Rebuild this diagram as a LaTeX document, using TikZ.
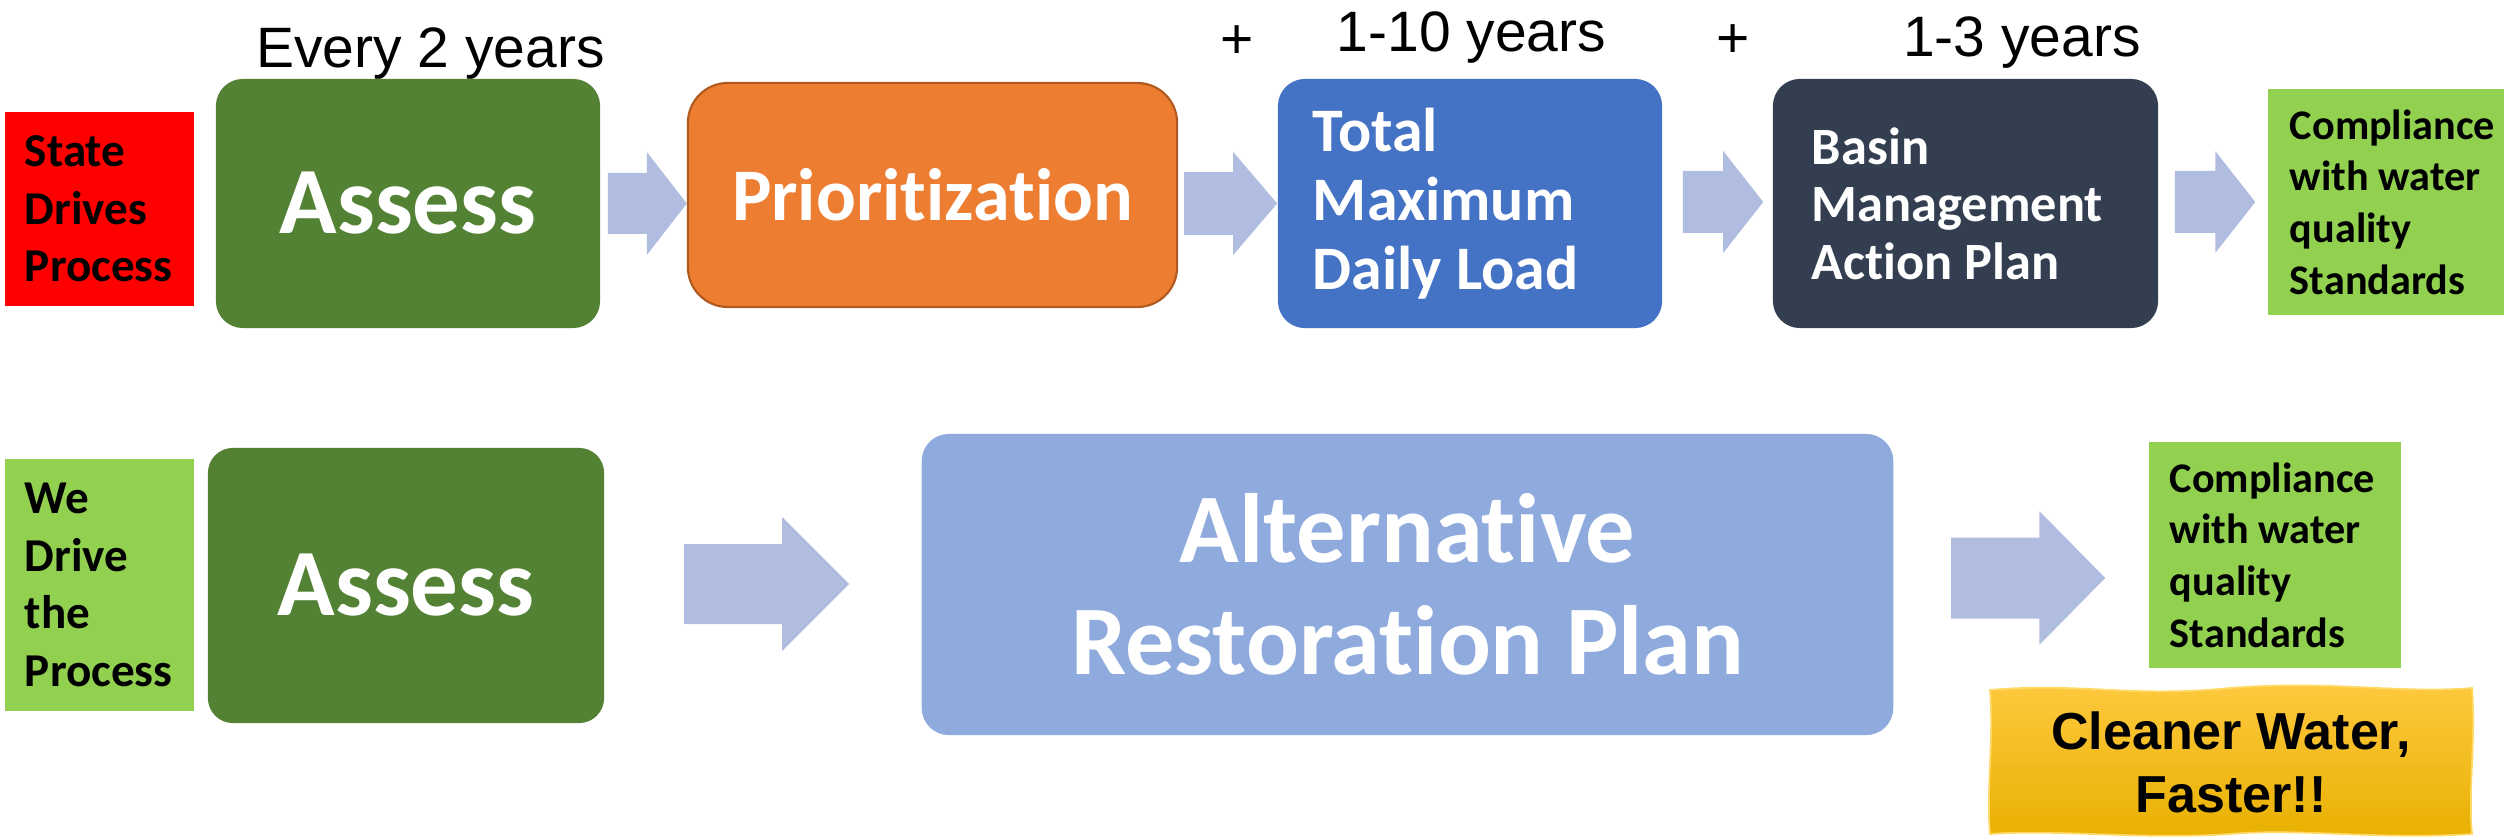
\documentclass[tikz,border=0pt]{standalone}
\usepackage{fontspec}
\setmainfont{Carlito}[Ligatures=NoCommon]
\newfontfamily\arialfont{Liberation Sans}
\usetikzlibrary{calc}

\definecolor{stateRed}{HTML}{FF0000}
\definecolor{assessGreen}{HTML}{548235}
\definecolor{prioOrange}{HTML}{ED7D31}
\definecolor{prioEdge}{HTML}{B0591F}
\definecolor{tmdlBlue}{HTML}{4472C4}
\definecolor{bmapNavy}{HTML}{333F50}
\definecolor{okGreen}{HTML}{92D050}
\definecolor{arrowBlue}{HTML}{B0BDE0}
\definecolor{arpBlue}{HTML}{8FAADC}
\definecolor{cwTop}{HTML}{FFC940}
\definecolor{cwMid}{HTML}{FFC000}
\definecolor{cwBot}{HTML}{E8B000}
\definecolor{cwEdge}{HTML}{FFD966}

% #1 start, #2 tip, #3 half shaft, #4 half head, #5 head length
\newcommand{\blockarrow}[5]{%
  \fill[blockfill] ($(#1)+(0,-#3)$) -- ($(#2)+(-#5,-#3)$) -- ($(#2)+(-#5,-#4)$) -- (#2)
    -- ($(#2)+(-#5,#4)$) -- ($(#2)+(-#5,#3)$) -- ($(#1)+(0,#3)$) -- cycle;}

\tikzset{
  roundbox/.style={rounded corners=0.27cm, inner sep=0pt, text=white},
  flagbox/.style={fill=okGreen, inner ysep=0pt, align=flush left},
  yearlabel/.style={anchor=base, inner sep=0pt, font=\arialfont\fontsize{16.2}{19}\selectfont},
  blockfill/.style={fill=arrowBlue},
}

\begin{document}
\begin{tikzpicture}[x=0.01cm, y=-0.01cm]
      \useasboundingbox (0,0) rectangle (2509,837);

      % state-driven path
      \node[flagbox, fill=stateRed, minimum width=1.89cm, minimum height=1.94cm, text width=1.49cm, inner xsep=0.2cm,
        font=\bfseries\fontsize{13.4}{16.4}\selectfont] (state) at (99.5,209) {State\\Drives\\Process};
      \node[roundbox, fill=assessGreen, minimum width=3.84cm, minimum height=2.49cm,
        font=\bfseries\fontsize{27}{32}\selectfont] (assess) at (408,203.5) {Assess};
      \node[roundbox, fill=prioOrange, draw=prioEdge, line width=0.6pt, rounded corners=0.4cm, minimum width=4.89cm, minimum height=2.24cm,
        font=\bfseries\fontsize{21.1}{25}\selectfont] (prio) at (932.5,195) {Prioritization};
      \node[roundbox, fill=tmdlBlue, minimum width=3.84cm, minimum height=2.49cm, text width=3.14cm, inner xsep=0.35cm, align=flush left,
        font=\bfseries\fontsize{17.6}{19.6}\selectfont] (tmdl) at (1470,203.5) {Total\\Maximum\\Daily Load};
      \node[roundbox, fill=bmapNavy, minimum width=3.85cm, minimum height=2.49cm, text width=3.07cm, inner xsep=0.39cm, align=flush left,
        font=\bfseries\fontsize{14.9}{16.4}\selectfont] (bmap) at (1965.5,203.5) {Basin\\Management\\Action Plan};
      \node[flagbox, minimum width=2.36cm, minimum height=2.26cm, text width=1.92cm, inner xsep=0.22cm,
        font=\bfseries\fontsize{12}{14.7}\selectfont] (compa) at (2386,202) {Compliance\\with water\\quality\\Standards};

      \node[yearlabel] (every) at (430.5,68) {Every 2 years};
      \node[yearlabel] (plusa) at (1237,59) {+};
      \node[yearlabel] (tenyrs) at (1471.5,52) {1-10 years};
      \node[yearlabel] (plusb) at (1733,58) {+};
      \node[yearlabel] (threeyrs) at (2022,57) {1-3 years};

      \coordinate (a1s) at ($(assess.east)+(7,0)$);
      \coordinate (a1e) at (prio.west |- a1s);
      \coordinate (a2s) at ($(prio.east |- tmdl.west)+(6,0)$);
      \coordinate (a2e) at (tmdl.west);
      \coordinate (a3s) at ($(tmdl.east)+(20,-1.5)$);
      \coordinate (a3e) at ($(bmap.west |- a3s)+(-9,0)$);
      \coordinate (a4s) at ($(bmap.east)+(16,-1.5)$);
      \coordinate (a4e) at ($(compa.west |- a4s)+(-12,0)$);
      \blockarrow{a1s}{a1e}{30.5}{51.5}{40}
      \blockarrow{a2s}{a2e}{31.5}{51.5}{44}
      \blockarrow{a3s}{a3e}{31}{51}{40}
      \blockarrow{a4s}{a4e}{31}{51}{40}

      % our path
      \node[flagbox, minimum width=1.89cm, minimum height=2.52cm, text width=1.49cm, inner xsep=0.2cm,
        font=\bfseries\fontsize{13.4}{16.4}\selectfont] (wedrive) at (99.5,585) {We\\Drive\\the\\Process};
      \node[roundbox, fill=assessGreen, rounded corners=0.25cm, minimum width=3.96cm, minimum height=2.75cm,
        font=\bfseries\fontsize{27}{32}\selectfont] (assessb) at (406,585.5) {Assess};
      \node[roundbox, fill=arpBlue, minimum width=9.71cm, minimum height=3.01cm, align=flush center,
        font=\bfseries\fontsize{28}{31.9}\selectfont] (arp) at (1407.5,584.5) {Alternative\\Restoration Plan};
      \node[flagbox, minimum width=2.52cm, minimum height=2.26cm, text width=2.10cm, inner xsep=0.21cm,
        font=\bfseries\fontsize{12}{14.7}\selectfont] (compb) at (2275,555) {Compliance\\with water\\quality\\Standards};

      \coordinate (b1s) at ($(assessb.east)+(79,-1.5)$);
      \coordinate (b1e) at ($(arp.west |- b1s)+(-72,0)$);
      \coordinate (b2s) at ($(arp.east)+(57,-6.5)$);
      \coordinate (b2e) at ($(compb.west |- b2s)+(-43,0)$);
      \blockarrow{b1s}{b1e}{40}{67}{67}
      \blockarrow{b2s}{b2e}{40.5}{67}{66}

      % wavy banner
      \shade[top color=cwTop, middle color=cwMid, bottom color=cwBot, draw=cwEdge, line width=0.5pt]
        (1990,690) .. controls (2080,682) and (2130,698) .. (2230,688) .. controls (2330,680) and (2400,694) .. (2472,688)
        .. controls (2476,740) and (2468,790) .. (2472,834)
        .. controls (2380,840) and (2300,828) .. (2230,834) .. controls (2140,840) and (2060,829) .. (1990,834)
        .. controls (1986,790) and (1994,740) .. (1990,690) -- cycle;
      \node[align=flush center, inner sep=0pt, font=\arialfont\bfseries\fontsize{14.8}{17.9}\selectfont] (cleaner) at (2231,762) {Cleaner Water,\\Faster!!};
    \end{tikzpicture}
\end{document}
